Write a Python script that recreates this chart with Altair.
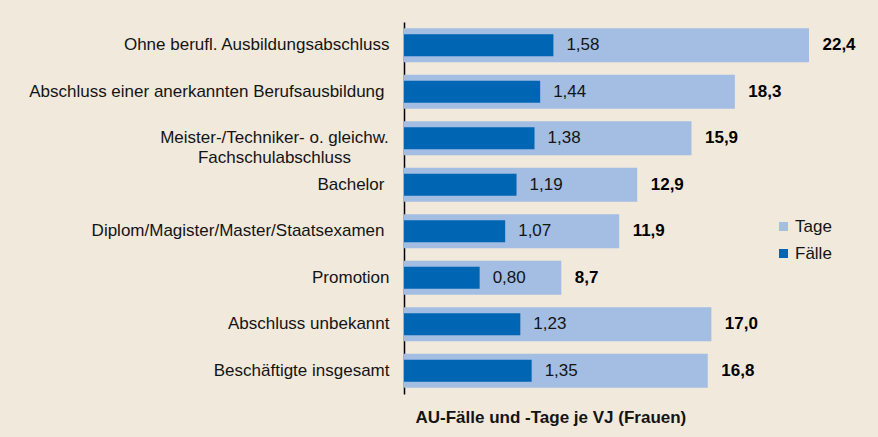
import altair as alt
import pandas as pd

categories = [
    "Ohne berufl. Ausbildungsabschluss",
    "Abschluss einer anerkannten Berufsausbildung",
    "Meister-/Techniker- o. gleichw.\nFachschulabschluss",
    "Bachelor",
    "Diplom/Magister/Master/Staatsexamen",
    "Promotion",
    "Abschluss unbekannt",
    "Beschäftigte insgesamt",
]
faelle = [1.58, 1.44, 1.38, 1.19, 1.07, 0.80, 1.23, 1.35]
tage = [22.4, 18.3, 15.9, 12.9, 11.9, 8.7, 17.0, 16.8]
series = ["Tage", "Fälle"]

# Labels that sit slightly further from the axis
wide_pad = [categories[1], categories[3], categories[4]]

df = pd.DataFrame({"kat": categories, "faelle": faelle, "tage": tage})

FONT = "Liberation Sans"
LIGHT = "#a3bde3"
DARK = "#0066b3"
BG = "#f1e9dc"
TXT = "#141414"

W, H = 452, 372

two_line_test = "indexof(datum.value, 'Meister') == 0"
wide_test = "indexof([" + ", ".join("'" + c + "'" for c in wide_pad) + "], datum.value) >= 0"

y_enc = alt.Y(
    "kat:N",
    sort=categories,
    scale=alt.Scale(paddingInner=0.2688, paddingOuter=0.1344),
    axis=alt.Axis(
        title=None,
        ticks=False,
        grid=False,
        labelPadding={
            "condition": [
                {"test": two_line_test, "value": 130},
                {"test": wide_test, "value": 20},
            ],
            "value": 15,
        },
        labelAlign={
            "condition": {"test": two_line_test, "value": "center"},
            "value": "right",
        },
        labelFont=FONT,
        labelFontSize=17,
        labelColor=TXT,
        labelLimit=400,
        labelLineHeight=20,
        labelExpr="split(datum.label, '\\n')",
        domainColor="#000000",
        domainWidth=1.5,
    ),
)

color_scale = alt.Scale(domain=series, range=[LIGHT, DARK])
color_legend = alt.Legend(
    title=None,
    orient="none",
    legendX=371,
    legendY=196,
    padding=0,
    symbolType="square",
    symbolSize=81,
    symbolStrokeWidth=0,
    labelFont=FONT,
    labelFontSize=17,
    labelColor=TXT,
    labelOffset=3,
    rowPadding=9,
)

tage_scale = alt.Scale(domain=[0, 25], nice=False)
faelle_scale = alt.Scale(domain=[0, 4.78], nice=False)

base = alt.Chart(df)

tage_bars = base.transform_calculate(art="'Tage'").mark_bar(size=34).encode(
    y=y_enc,
    x=alt.X(
        "tage:Q",
        scale=tage_scale,
        axis=alt.Axis(
            title="AU-Fälle und -Tage je VJ (Frauen)",
            domain=False,
            ticks=False,
            labels=False,
            grid=False,
            titleFont=FONT,
            titleFontSize=17,
            titleFontWeight="bold",
            titleColor=TXT,
            titleAlign="left",
            titleAnchor="start",
            titleBaseline="middle",
            titleX=11,
            titleY=23,
        ),
    ),
    color=alt.Color("art:N", scale=color_scale, legend=color_legend),
)

faelle_bars = base.transform_calculate(art="'Fälle'").mark_bar(size=22).encode(
    y=alt.Y("kat:N", sort=categories),
    x=alt.X("faelle:Q", scale=faelle_scale, axis=None),
    color=alt.Color("art:N", scale=color_scale, legend=color_legend),
)

faelle_text = base.transform_calculate(
    lbl="replace(format(datum.faelle, '.2f'), '.', ',')"
).mark_text(
    align="left", baseline="middle", dx=13, font=FONT, fontSize=17, color=TXT
).encode(
    y=alt.Y("kat:N", sort=categories),
    x=alt.X("faelle:Q", scale=faelle_scale, axis=None),
    text="lbl:N",
)

tage_text = base.transform_calculate(
    lbl="replace(format(datum.tage, '.1f'), '.', ',')"
).mark_text(
    align="left", baseline="middle", dx=13.5, font=FONT, fontSize=17,
    fontWeight="bold", color="#000000"
).encode(
    y=alt.Y("kat:N", sort=categories),
    x=alt.X("tage:Q", scale=tage_scale, axis=None),
    text="lbl:N",
)

chart = (
    alt.layer(tage_bars, faelle_bars, faelle_text, tage_text)
    .resolve_scale(x="independent")
    .properties(
        width=W,
        height=H,
        autosize=alt.AutoSizeParams(type="none"),
        padding={"left": 404, "top": 22, "right": 878 - 404 - W, "bottom": 437 - 22 - H},
        background=BG,
    )
    .configure_view(stroke=None)
)

chart.save("out.html", embed_options={"renderer": "svg", "actions": False})
